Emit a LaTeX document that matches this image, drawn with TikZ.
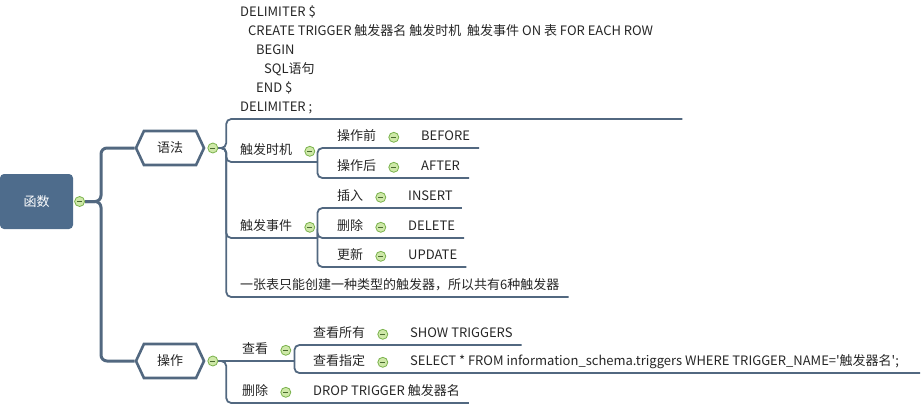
\documentclass[tikz,border=0pt]{standalone}
\usepackage{fontspec}
\setmainfont{Noto Sans CJK SC}
\usepackage{tikz}
\usetikzlibrary{shapes.symbols}
\usetikzlibrary{calc,backgrounds}
\usetikzlibrary{positioning}
\usepackage{xcolor}
\definecolor{branchcol}{RGB}{82,104,128}
\definecolor{rootcol}{RGB}{78,108,140}
\definecolor{foldfill}{RGB}{206,232,168}
\definecolor{folddraw}{RGB}{122,178,76}
\tikzstyle{mindmap}=[
  x=1pt,y=-1pt,font=\fontsize{13}{19}\selectfont,text=black!85
]
\tikzstyle{rootbox}=[
  fill=rootcol,text=white,rounded corners=4pt,minimum width=73pt,minimum height=55pt
]
\tikzstyle{hexbox}=[
  signal,signal to=east and west,signal pointer angle=130,draw=branchcol,
  line width=2.6pt,fill=white,minimum width=68pt,minimum height=34pt
]
\tikzstyle{topic}=[
  anchor=south west,inner xsep=9pt,inner ysep=4pt,text height=10pt,text depth=3pt
]
\tikzstyle{codebox}=[
  anchor=south west,inner xsep=9pt,inner ysep=4pt,text depth=3pt,align=left
]
\tikzstyle{fold}=[
  circle,draw=folddraw,fill=foldfill,line width=0.8pt,minimum size=10pt,inner sep=0pt,
  path picture={\draw[folddraw!60!black,line width=0.8pt]
    ([xshift=-2.5pt]path picture bounding box.center) --
    ([xshift=2.5pt]path picture bounding box.center);}
]
\tikzstyle{branch}=[
  draw=branchcol,line width=1.8pt,rounded corners=5pt
]
\tikzstyle{trunk}=[
  draw=branchcol,line width=3pt,rounded corners=6pt
]

\begin{document}
\begin{tikzpicture}[mindmap]
    \useasboundingbox (0,0) rectangle (921,408);
    \node (root) at (36.5,201.5) [rootbox] {函数};
    \node (f-root) [fold,right=1pt of root] {};
    \node (syntax) at (170,148) [hexbox] {语法};
    \node (f-syntax) [fold,right=2pt of syntax] {};
    \node (ops) at (170,361) [hexbox] {操作};
    \node (f-ops) [fold,right=2pt of ops] {};

    \node (code) at (231,119) [codebox] {DELIMITER \$\\
      \hspace*{8pt}CREATE TRIGGER 触发器名 触发时机\ \ 触发事件 ON 表 FOR EACH ROW\\
      \hspace*{16pt}BEGIN\\
      \hspace*{24pt}SQL语句\\
      \hspace*{16pt}END \$\\
      DELIMITER ;};
    \node (timing) at (231,162) [topic] {触发时机};
    \node (f-timing) [fold,right=3pt of timing] {};
    \node (events) at (231,238) [topic] {触发事件};
    \node (f-events) [fold,right=3pt of events] {};
    \node (note) at (231,297) [topic] {一张表只能创建一种类型的触发器，所以共有6种触发器};
    \coordinate (j-timing) at ($(timing.south east)+(16,0)$);
    \coordinate (j-events) at ($(events.south east)+(16,0)$);

    \node (pre) at (328,148) [topic] {操作前};
    \node (f-pre) [fold,right=3pt of pre] {};
    \node (before) at (412,148) [topic] {BEFORE};
    \node (post) at (328,178) [topic] {操作后};
    \node (f-post) [fold,right=3pt of post] {};
    \node (after) at (412,178) [topic] {AFTER};

    \node (ins) at (328,208) [topic] {插入};
    \node (f-ins) [fold,right=3pt of ins] {};
    \node (insert) at (399,208) [topic] {INSERT};
    \node (del) at (328,238) [topic] {删除};
    \node (f-del) [fold,right=3pt of del] {};
    \node (delete) at (399,238) [topic] {DELETE};
    \node (upd) at (328,267) [topic] {更新};
    \node (f-upd) [fold,right=3pt of upd] {};
    \node (update) at (399,267) [topic] {UPDATE};

    \node (view) at (233,361) [topic] {查看};
    \node (f-view) [fold,right=3pt of view] {};
    \coordinate (j-view) at ($(view.south east)+(17,0)$);
    \node (viewall) at (304,345) [topic] {查看所有};
    \node (f-viewall) [fold,right=3pt of viewall] {};
    \node (show) at (401,345) [topic] {SHOW TRIGGERS};
    \node (viewone) at (304,373) [topic] {查看指定};
    \node (f-viewone) [fold,right=3pt of viewone] {};
    \node (select) at (401,373) [topic] {SELECT * FROM information\_schema.triggers WHERE TRIGGER\_NAME=\textquotesingle 触发器名\textquotesingle;};
    \node (drop-topic) at (233,403) [topic] {删除};
    \node (f-drop) [fold,right=3pt of drop-topic] {};
    \node (drop) at (304,403) [topic] {DROP TRIGGER 触发器名};

    \begin{scope}[on background layer]
      \draw [trunk] (f-root.east) -- ++(16,0) |- (syntax.west);
      \draw [trunk] (f-root.east) -- ++(16,0) |- (ops.west);
      \draw [branch] (f-syntax.east) -- ++(8,0) |- ($(code.south east)+(20,0)$);
      \draw [branch] (f-syntax.east) -- ++(8,0) |- (j-timing);
      \draw [branch] (f-syntax.east) -- ++(8,0) |- (j-events);
      \draw [branch] (f-syntax.east) -- ++(8,0) |- (note.south east);
      \draw [branch] (j-timing) |- (before.south east);
      \draw [branch] (j-timing) |- (after.south east);
      \draw [branch] (j-events) |- (insert.south east);
      \draw [branch] (j-events) |- (delete.south east);
      \draw [branch] (j-events) |- (update.south east);
      \draw [branch] (f-ops.east) -- (j-view);
      \draw [branch] (f-ops.east) -- ++(8,0) |- (drop.south east);
      \draw [branch] (j-view) |- (show.south east);
      \draw [branch] (j-view) |- ($(select.south east)+(12,0)$);
    \end{scope}
\end{tikzpicture}
\end{document}
